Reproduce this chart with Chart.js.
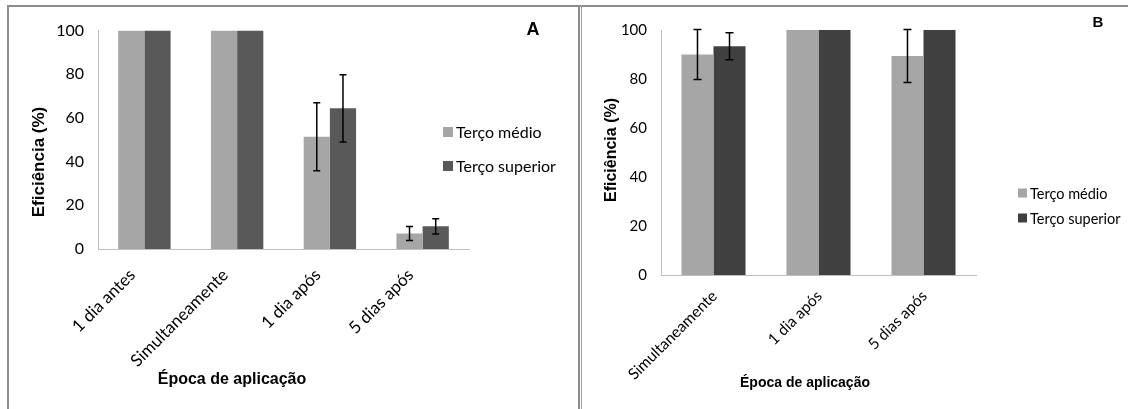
<!DOCTYPE html>
<html>
<head>
<meta charset="utf-8">
<script src="https://cdn.jsdelivr.net/npm/chart.js@4.4.1/dist/chart.umd.min.js"></script>
<style>
  body { margin: 0; background: #fff; }
  #wrap { position: relative; width: 1128px; height: 409px; overflow: hidden; }
  .line { position: absolute; background: #8c8c8c; }
  canvas { position: absolute; }
</style>
</head>
<body>
<div id="wrap">
  <div class="line" style="left:7px;top:5px;width:1121px;height:2px"></div>
  <div class="line" style="left:7px;top:5px;width:2px;height:404px"></div>
  <div class="line" style="left:578px;top:5px;width:2px;height:404px"></div>
  <div class="line" style="left:581px;top:5px;width:1px;height:404px;background:#a0a0a0"></div>
  <canvas id="chartA" width="569" height="402" style="left:9px;top:7px"></canvas>
  <canvas id="chartB" width="545" height="402" style="left:583px;top:7px"></canvas>
</div>
<script>
// painel A
var catsA = ['1 dia antes', 'Simultaneamente', '1 dia após', '5 dias após'];
var medioA = [100, 100, 51.4, 7.1];
var superiorA = [100, 100, 64.4, 10.4];
var errMedioA = [0, 0, 15.6, 3.2];
var errSuperiorA = [0, 0, 15.4, 3.5];

// painel B
var catsB = ['Simultaneamente', '1 dia após', '5 dias após'];
var medioB = [90, 100, 89.4];
var superiorB = [93.4, 100, 100];
var errMedioB = [10.2, 0, 10.8];
var errSuperiorB = [5.5, 0, 0];

var yTicks = [0, 20, 40, 60, 80, 100];

var tickFont = 'Lato';
var titleFont = '"Liberation Sans", Arial, sans-serif';

// barras de erro
var errorBars = {
  id: 'errorBars',
  afterDatasetsDraw: function (chart) {
    var ctx = chart.ctx;
    var y = chart.scales.y;
    chart.data.datasets.forEach(function (ds, i) {
      var meta = chart.getDatasetMeta(i);
      meta.data.forEach(function (bar, j) {
        var e = ds.errors[j];
        if (!e) return;
        var v = ds.data[j];
        var top = y.getPixelForValue(v + e);
        var bot = y.getPixelForValue(v - e);
        var cap = chart.options.plugins.errorBars.cap;
        ctx.save();
        ctx.strokeStyle = '#000';
        ctx.lineWidth = 1.5;
        ctx.beginPath();
        ctx.moveTo(bar.x, top); ctx.lineTo(bar.x, bot);
        ctx.moveTo(bar.x - cap, top); ctx.lineTo(bar.x + cap, top);
        ctx.moveTo(bar.x - cap, bot); ctx.lineTo(bar.x + cap, bot);
        ctx.stroke();
        ctx.restore();
      });
    });
  }
};

// títulos, letra do painel e legenda
var extras = {
  id: 'extras',
  afterDraw: function (chart) {
    var o = chart.options.plugins.extras;
    var ctx = chart.ctx;
    ctx.save();
    ctx.fillStyle = '#000';
    ctx.textAlign = 'center';
    ctx.textBaseline = 'middle';
    ctx.font = 'bold ' + o.letterSize + 'px ' + titleFont;
    ctx.fillText(o.letter, o.letterX, o.letterY);
    ctx.font = 'bold ' + o.titleSize + 'px ' + titleFont;
    ctx.fillText('Época de aplicação', o.xTitleX, o.xTitleY);
    ctx.save();
    ctx.translate(o.yTitleX, o.yTitleY);
    ctx.rotate(-Math.PI / 2);
    ctx.font = 'bold ' + o.yTitleSize + 'px ' + titleFont;
    ctx.fillText('Eficiência (%)', 0, 0);
    ctx.restore();
    ctx.textAlign = 'left';
    ctx.font = o.legendSize + 'px ' + tickFont;
    chart.data.datasets.forEach(function (ds, i) {
      var ly = o.legendY[i];
      ctx.fillStyle = ds.backgroundColor;
      ctx.fillRect(o.legendX, ly - o.box / 2, o.box, o.box);
      ctx.fillStyle = '#000';
      ctx.fillText(ds.label, o.legendX + o.box + 3, ly + 1);
    });
    ctx.restore();
  }
};

function makeChart(id, cats, medio, superior, errM, errS, dark, p) {
  new Chart(document.getElementById(id), {
    type: 'bar',
    data: {
      labels: cats,
      datasets: [
        { label: 'Terço médio', data: medio, errors: errM, backgroundColor: '#a6a6a6' },
        { label: 'Terço superior', data: superior, errors: errS, backgroundColor: dark }
      ]
    },
    options: {
      responsive: false,
      animation: false,
      layout: { padding: { left: 0, top: p.top, right: p.right, bottom: 0 } },
      datasets: { bar: { categoryPercentage: p.cat, barPercentage: 1 } },
      scales: {
        x: {
          grid: { display: false, drawTicks: false },
          border: { display: true, color: '#bfbfbf', width: 1 },
          ticks: {
            color: '#000', font: { family: tickFont, size: p.xTick },
            minRotation: 45, maxRotation: 45, autoSkip: false,
            padding: p.xPad, labelOffset: p.xOff
          },
          afterFit: function (s) { s.height = p.xH; }
        },
        y: {
          min: 0, max: 100,
          grid: { display: false, drawTicks: false },
          border: { display: true, color: '#bfbfbf', width: 1 },
          afterBuildTicks: function (s) { s.ticks = yTicks.map(function (v) { return { value: v }; }); },
          ticks: { color: '#000', font: { family: tickFont, size: p.yTick }, padding: p.yPad },
          afterFit: function (s) { s.width = p.yW; }
        }
      },
      plugins: {
        legend: { display: false },
        tooltip: { enabled: false },
        errorBars: { cap: p.cap },
        extras: p.extras
      }
    },
    plugins: [errorBars, extras]
  });
}

makeChart('chartA', catsA, medioA, superiorA, errMedioA, errSuperiorA, '#595959', {
  top: 20, right: 109, yW: 89, xH: 160, cat: 0.565, yTick: 16, xTick: 17, xPad: 16, xOff: -12, yPad: 14, cap: 3.5,
  extras: {
    letter: 'A', letterSize: 18, letterX: 524, letterY: 23,
    titleSize: 16, xTitleX: 223, xTitleY: 373,
    yTitleSize: 17, yTitleX: 30, yTitleY: 155,
    legendSize: 16, legendX: 434, legendY: [125, 159], box: 10
  }
});

makeChart('chartB', catsB, medioB, superiorB, errMedioB, errSuperiorB, '#404040', {
  top: 20, right: 152, yW: 78, xH: 134, cat: 0.61, yTick: 15, xTick: 15.5, xPad: 12, xOff: 1, yPad: 14, cap: 4,
  extras: {
    letter: 'B', letterSize: 15, letterX: 515, letterY: 16,
    titleSize: 14, xTitleX: 222, xTitleY: 376,
    yTitleSize: 16, yTitleX: 29, yTitleY: 143,
    legendSize: 14.5, legendX: 435, legendY: [186, 211], box: 9
  }
});
</script>
</body>
</html>
